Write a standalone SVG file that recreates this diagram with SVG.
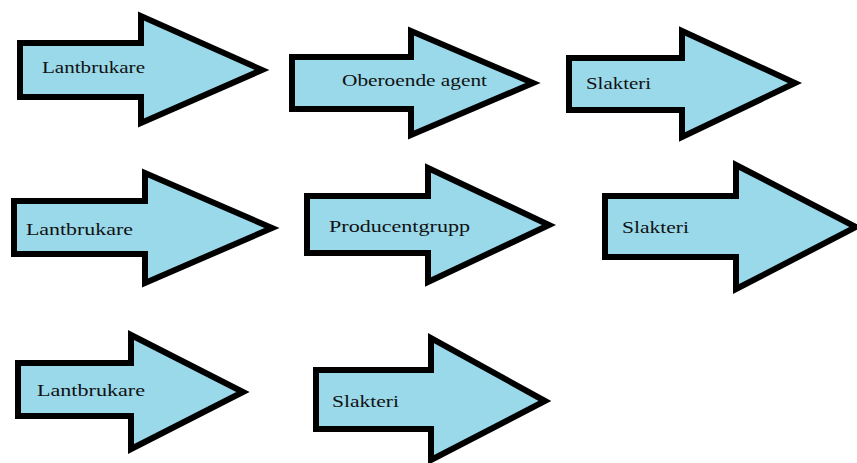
<svg xmlns="http://www.w3.org/2000/svg" width="857" height="463" viewBox="0 0 857 463">
<style>
.a{fill:#99d9ea;stroke:#000;stroke-width:6;stroke-linejoin:miter;stroke-miterlimit:10}
.t{font-family:"Liberation Serif",serif;font-size:17px;fill:#111}
</style>
<rect width="857" height="463" fill="#fff"/>
<g id="n1"><polygon class="a" points="20,43 141,43 141,16 262,70 141,123 141,97 20,97"/><text class="t" x="42" y="73" textLength="103" lengthAdjust="spacingAndGlyphs">Lantbrukare</text></g>
<g id="n2"><polygon class="a" points="292,57 411,57 411,31 533,83 411,135 411,109 292,109"/><text class="t" x="342" y="86" textLength="145" lengthAdjust="spacingAndGlyphs">Oberoende agent</text></g>
<g id="n3"><polygon class="a" points="569,58 682,58 682,31 795,83 682,137 682,110 569,110"/><text class="t" x="586" y="89" textLength="65" lengthAdjust="spacingAndGlyphs">Slakteri</text></g>
<g id="n4"><polygon class="a" points="14,201 145,201 145,173 272,228 145,283 145,254 14,254"/><text class="t" x="26" y="235" textLength="107" lengthAdjust="spacingAndGlyphs">Lantbrukare</text></g>
<g id="n5"><polygon class="a" points="307,196 428,196 428,168 549,225 428,282 428,253 307,253"/><text class="t" x="329" y="232" textLength="141" lengthAdjust="spacingAndGlyphs">Producentgrupp</text></g>
<g id="n6"><polygon class="a" points="605,196 736,196 736,165 856,227 736,289 736,257 605,257"/><text class="t" x="622" y="233" textLength="67" lengthAdjust="spacingAndGlyphs">Slakteri</text></g>
<g id="n7"><polygon class="a" points="18,363 131,363 131,335 243,392 131,449 131,416 18,416"/><text class="t" x="37" y="396" textLength="108" lengthAdjust="spacingAndGlyphs">Lantbrukare</text></g>
<g id="n8"><polygon class="a" points="316,370 431,370 431,338 545,401 431,460 431,429 316,429"/><text class="t" x="332" y="407" textLength="67" lengthAdjust="spacingAndGlyphs">Slakteri</text></g>
<g id="connectors"></g>
</svg>
